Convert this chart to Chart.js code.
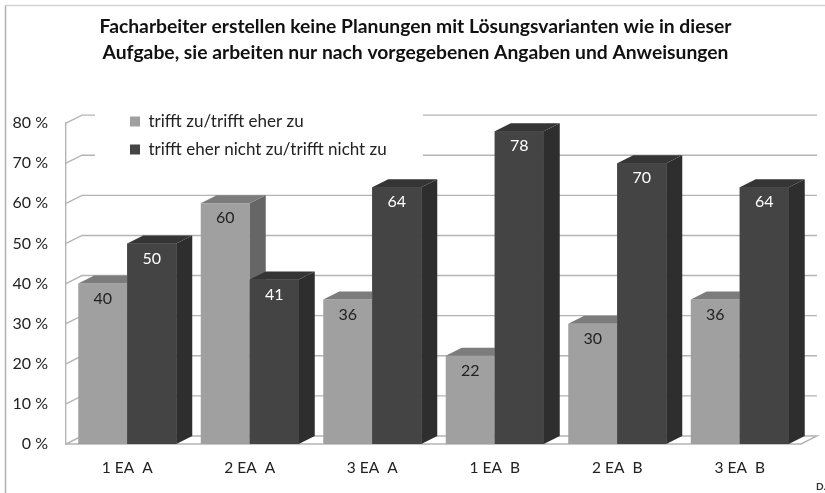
<!DOCTYPE html>
<html>
<head>
<meta charset="utf-8">
<script src="https://cdn.jsdelivr.net/npm/chart.js@4/dist/chart.umd.min.js"></script>
<style>
    html, body { margin: 0; padding: 0; background: #fff; }
    #box { width: 825px; height: 493px; }
    #grafico { filter: blur(0.45px); }
</style>
</head>
<body>
<div id="box"><canvas id="grafico"></canvas></div>
<script>
const tituloLineas = [
    'Facharbeiter erstellen keine Planungen mit Lösungsvarianten wie in dieser',
    'Aufgabe, sie arbeiten nur nach vorgegebenen Angaben und Anweisungen'
];
const categorias = ['1 EA  A', '2 EA  A', '3 EA  A', '1 EA  B', '2 EA  B', '3 EA  B'];
const serieNombres = ['trifft zu/trifft eher zu', 'trifft eher nicht zu/trifft nicht zu'];
const trifftZu = [40, 60, 36, 22, 30, 36];
const trifftNicht = [50, 41, 64, 78, 70, 64];
const yTicks = [0, 10, 20, 30, 40, 50, 60, 70, 80];

// Fake 3D depth, in px
const DX = 16, DY = 8;
const FUENTE = 'Lato, Carlito, sans-serif';
const colorGrid = '#b4b4b4';
const estilo = [
    { front: '#a0a0a0', side: '#666666', top: '#7c7c7c', label: '#222222' },
    { front: '#444444', side: '#2e2e2e', top: '#353535', label: '#ffffff' }
];

// Walls and floor, drawn before everything else
const pared = {
    id: 'pared',
    beforeDraw(chart) {
        const { ctx, scales: { x, y } } = chart;
        const L = x.left, R = x.right;
        ctx.save();
        // frame of the original picture
        ctx.strokeStyle = '#d4d4d4';
        ctx.lineWidth = 1.5;
        ctx.beginPath();
        ctx.moveTo(825, 5.5);
        ctx.lineTo(5.5, 5.5);
        ctx.stroke();
        ctx.strokeStyle = '#b0b0b0';
        ctx.beginPath();
        ctx.moveTo(5.5, 5.5);
        ctx.lineTo(5.5, 493);
        ctx.stroke();

        ctx.strokeStyle = colorGrid;
        ctx.lineWidth = 1.4;
        yTicks.forEach(v => {
            const py = y.getPixelForValue(v);
            ctx.beginPath();
            ctx.moveTo(L, py);
            ctx.lineTo(L + DX, py - DY);
            ctx.lineTo(R + DX, py - DY);
            if (v === 0) {
                ctx.lineTo(R, py);
                ctx.lineTo(L, py);
            }
            ctx.stroke();
        });
        // white box behind the legend hides part of the grid
        ctx.fillStyle = '#fff';
        ctx.fillRect(95, 100, 328, 66);

        ctx.fillStyle = '#333';
        ctx.font = 'bold 10px ' + FUENTE;
        ctx.textBaseline = 'middle';
        ctx.fillText('D.', 816, 487);
        ctx.restore();
    },
    afterLayout(chart) {
        // legend sits inside the plot, top left
        const lg = chart.legend;
        const w = lg.right - lg.left, h = lg.bottom - lg.top;
        lg.left = 119; lg.right = 119 + w;
        lg.top = 102; lg.bottom = 102 + h;
        // title is centred a bit right of the canvas middle
        chart.titleBlock.left = 30;
        chart.titleBlock.right = 801;
    }
};

// Sides and tops of the bars, plus value labels
const barras3d = {
    id: 'barras3d',
    afterDatasetsDraw(chart) {
        const { ctx } = chart;
        const m0 = chart.getDatasetMeta(0).data;
        const m1 = chart.getDatasetMeta(1).data;
        const lado = (b, s) => {
            const izq = b.x - b.width / 2, der = b.x + b.width / 2;
            ctx.fillStyle = s.side;
            ctx.beginPath();
            ctx.moveTo(der, b.y);
            ctx.lineTo(der + DX, b.y - DY);
            ctx.lineTo(der + DX, b.base - DY);
            ctx.lineTo(der, b.base);
            ctx.closePath();
            ctx.fill();
            ctx.fillStyle = s.top;
            ctx.beginPath();
            ctx.moveTo(izq, b.y);
            ctx.lineTo(izq + DX, b.y - DY);
            ctx.lineTo(der + DX, b.y - DY);
            ctx.lineTo(der, b.y);
            ctx.closePath();
            ctx.fill();
        };
        categorias.forEach((_, i) => {
            lado(m0[i], estilo[0]);
            m1[i].draw(ctx); // dark bar has to cover the side of the light one
            lado(m1[i], estilo[1]);
        });
        ctx.save();
        ctx.font = '16px ' + FUENTE;
        ctx.textAlign = 'center';
        ctx.textBaseline = 'middle';
        [m0, m1].forEach((meta, k) => {
            const valores = k === 0 ? trifftZu : trifftNicht;
            ctx.fillStyle = estilo[k].label;
            meta.forEach((b, i) => ctx.fillText(String(valores[i]), b.x, b.y + 15));
        });
        ctx.restore();
    }
};

const grafico = new Chart(document.getElementById('grafico'), {
    type: 'bar',
    data: {
        labels: categorias,
        datasets: [
            { label: serieNombres[0], data: trifftZu, backgroundColor: estilo[0].front },
            { label: serieNombres[1], data: trifftNicht, backgroundColor: estilo[1].front }
        ]
    },
    options: {
        responsive: true,
        maintainAspectRatio: false,
        animation: false,
        categoryPercentage: 0.8,
        barPercentage: 1,
        layout: { padding: { left: 0, right: 24, top: 0, bottom: 0 } },
        plugins: {
            tooltip: { enabled: false },
            title: {
                display: true,
                text: tituloLineas,
                color: '#111',
                font: { family: FUENTE, size: 19.3, weight: 'bold', lineHeight: 1.35 },
                padding: { top: 14, bottom: 57 }
            },
            legend: {
                display: true,
                position: 'chartArea',
                align: 'start',
                labels: {
                    color: '#222',
                    font: { family: FUENTE, size: 17 },
                    boxWidth: 10,
                    boxHeight: 10,
                    padding: 11
                }
            }
        },
        scales: {
            x: {
                grid: { display: false },
                border: { display: false },
                ticks: { color: '#222', font: { family: FUENTE, size: 15.5 }, padding: 7, maxRotation: 0 },
                afterFit(s) { s.height = 49; }
            },
            y: {
                min: 0,
                max: 80,
                afterBuildTicks(s) { s.ticks = yTicks.map(v => ({ value: v })); },
                grid: { display: false, drawTicks: false },
                border: { color: colorGrid, width: 1.4 },
                ticks: {
                    color: '#222',
                    font: { family: FUENTE, size: 16 },
                    padding: 18,
                    callback: v => v + ' %'
                },
                afterFit(s) { s.width = 66; }
            }
        }
    },
    plugins: [pared, barras3d]
});
</script>
</body>
</html>
